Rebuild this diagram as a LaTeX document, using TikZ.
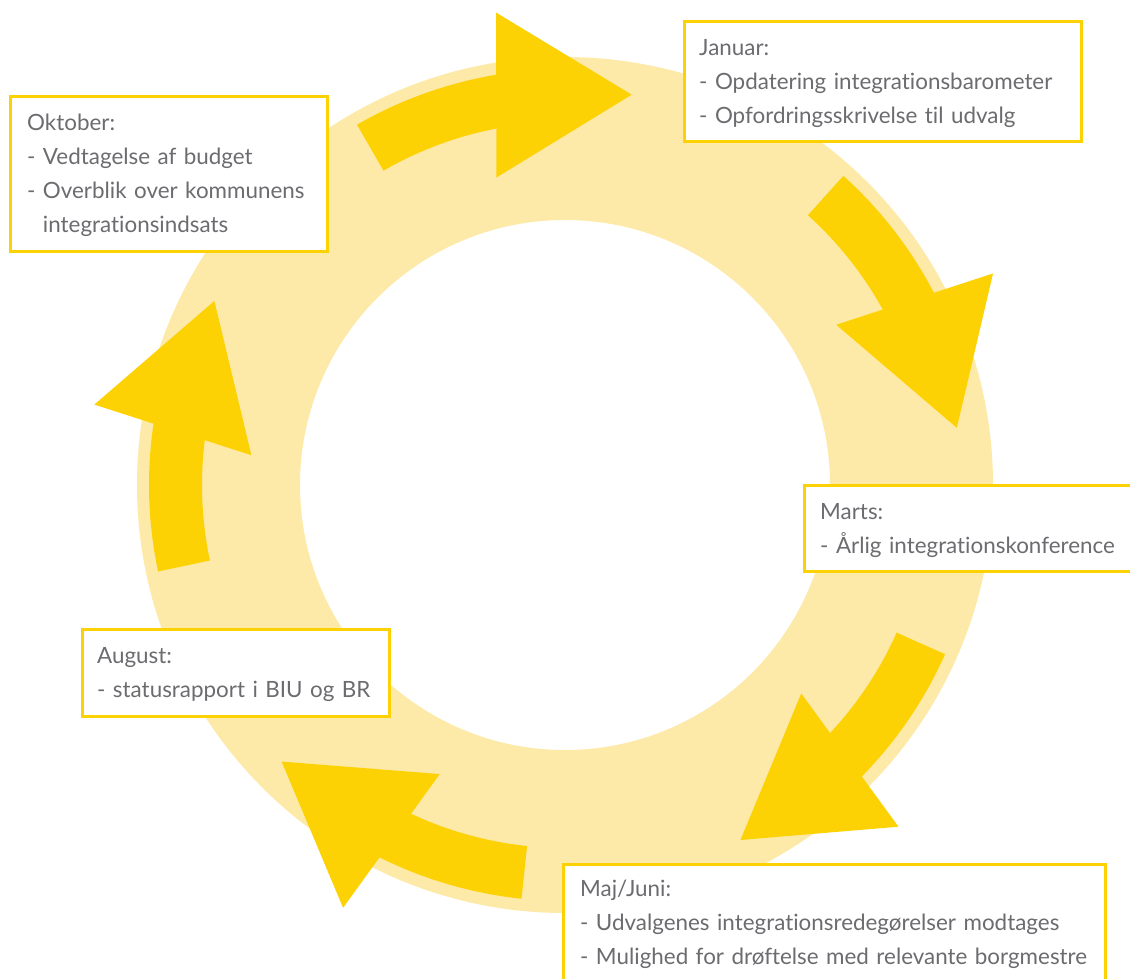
\documentclass[tikz,border=0pt]{standalone}
\usepackage{fontspec}
\setmainfont[Ligatures=NoCommon]{Lato}
\usetikzlibrary{calc}
\definecolor{gold}{RGB}{253,210,5}
\definecolor{ringcol}{RGB}{253,233,168}
\definecolor{txtgray}{RGB}{108,108,112}
\newcommand\firstln{\rule{0pt}{24pt}}
\tikzset{
  yearbox/.style={draw=gold, line width=3pt, fill=white, anchor=north west, inner sep=0pt},
  boxtext/.style={anchor=north west, inner sep=0pt, text=txtgray, align=left, text width=580pt,
    font=\fontsize{22.4}{34}\selectfont},
  bigarrow/.style={fill=gold}
}
\begin{document}
\begin{tikzpicture}[x=1pt,y=1pt]
\useasboundingbox (0,0) rectangle (1130,-978);
\coordinate (c) at (565,-485);
% ring
\fill[ringcol, even odd rule] (c) circle[radius=428pt] (c) circle[radius=265pt];
% arrows
\foreach \k in {0,...,4} {
  \pgfmathsetmacro\ta{120-72*\k}
  \pgfmathsetmacro\tb{\ta-20}
  \pgfmathsetmacro\tc{\ta-39.7}
  \pgfmathsetmacro\te{\tb-3}
  \coordinate (B\k) at ($(c)+(\tb:396pt)$);
  \coordinate (T\k) at ($(c)+(\tc:396pt)$);
  \fill[bigarrow] ($(c)+(\ta:416pt)$) arc[start angle=\ta, end angle=\te, radius=416pt]
     -- ($(c)+(\te:363pt)$) arc[start angle=\te, end angle=\ta, radius=363pt] -- cycle;
  \fill[bigarrow] ($(B\k)!82.5pt!90:(T\k)$) -- (T\k) -- ($(B\k)!82.5pt!-90:(T\k)$) -- cycle;
}
% boxes
\node[yearbox, minimum width=317pt, minimum height=155pt] (okt) at (9,-95) {};
\node[yearbox, minimum width=397pt, minimum height=120pt] (jan) at (683,-20) {};
\node[yearbox, minimum width=340pt, minimum height=86pt] (mar) at (803,-484) {};
\node[yearbox, minimum width=307pt, minimum height=87pt] (aug) at (81,-628) {};
\node[yearbox, minimum width=542pt, minimum height=125pt] (maj) at (562,-863) {};
% texts
\node[boxtext] (okt-t) at (27,-106) {\firstln Oktober:\\- Vedtagelse af budget\\- Overblik over kommunens\\\hphantom{- }integrationsindsats};
\node[boxtext] (jan-t) at (699,-31) {\firstln Januar:\\- Opdatering integrationsbarometer\\- Opfordringsskrivelse til udvalg};
\node[boxtext] (mar-t) at (820,-495) {\firstln Marts:\\- Årlig integrationskonference};
\node[boxtext] (aug-t) at (97,-639) {\firstln August:\\- statusrapport i BIU og BR};
\node[boxtext] (maj-t) at (580,-872) {\firstln Maj/Juni:\\- Udvalgenes integrationsredegørelser modtages\\- Mulighed for drøftelse med relevante borgmestre};
\end{tikzpicture}
\end{document}
